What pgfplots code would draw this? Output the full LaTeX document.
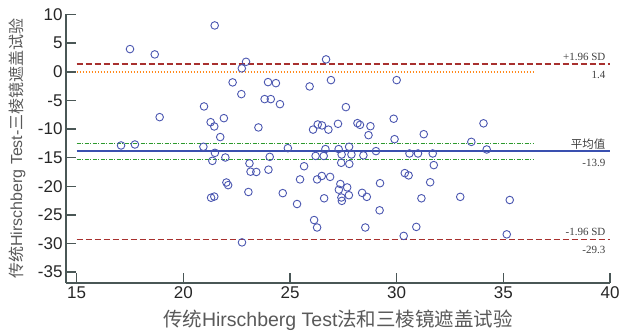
\documentclass[border=0pt]{standalone}
\usepackage{fontspec}
\setmainfont{Liberation Sans}
\newfontfamily\cjk{Noto Sans CJK SC}
\newfontfamily\tms{Liberation Serif}
\usepackage{pgfplots}
\pgfplotsset{compat=1.18}
\definecolor{spine}{HTML}{4A5756}
\definecolor{ptblue}{HTML}{4A56B0}
\definecolor{lred}{HTML}{A8302E}
\definecolor{lorange}{HTML}{FF8A1E}
\definecolor{lgreen}{HTML}{2E9A2E}
\definecolor{lblue}{HTML}{3A50B0}
\begin{document}
\begin{tikzpicture}
\useasboundingbox (-66pt,-48pt) rectangle (554pt,283pt);
\begin{axis}[
 scale only axis, width=544pt, height=269pt,
 xmin=14.5, xmax=40, ymin=-36.9, ymax=10.1,
 axis x line*=bottom, axis y line*=left,
 axis line style={spine, line width=1.8pt, -},
 xtick={15,20,...,40}, ytick={-35,-30,...,10},
 tick align=inside, major tick length=10pt,
 tick style={spine, line width=1.5pt},
 ticklabel style={font=\fontsize{17}{20}\selectfont, text=black!85},
 /pgf/number format/assume math mode=true,
 xlabel={{\cjk 传统}Hirschberg Test{\cjk 法和三棱镜遮盖试验}},
 ylabel={{\cjk 传统}Hirschberg Test-{\cjk 三棱镜遮盖试验}},
 xlabel style={at={(axis description cs:0.5,-0.1375)}, anchor=center, font=\fontsize{19.5}{22}\selectfont, text=black!65},
 ylabel style={at={(axis description cs:-0.09,0.5)}, anchor=center, font=\fontsize{16}{19}\selectfont, text=black!65},
 clip=false,
]
\addplot[lred, line width=1.8pt, dash pattern=on 6pt off 3pt] coordinates {(15,1.4) (40,1.4)};
\addplot[lorange, line width=1.8pt, dash pattern=on 1.5pt off 1.5pt] coordinates {(15,0) (36.4,0)};
\addplot[lgreen, line width=1pt, dash pattern=on 4pt off 1.5pt on 1pt off 1.5pt] coordinates {(15,-12.5) (36.4,-12.5)};
\addplot[lgreen, line width=1pt, dash pattern=on 4pt off 1.5pt on 1pt off 1.5pt] coordinates {(15,-15.4) (36.4,-15.4)};
\addplot[lblue, line width=1.8pt] coordinates {(15,-13.9) (40,-13.9)};
\addplot[lred, line width=1.8pt, dash pattern=on 6pt off 3pt] coordinates {(15,-29.3) (40,-29.3)};
\addplot[only marks, mark=o, mark size=3.8pt, ptblue, mark options={line width=0.9pt}] coordinates {
(21.47,8.1) (17.5,3.97) (18.66,3.04) (22.94,1.75) (22.74,0.6) (22.31,-1.85) (22.72,-3.9)
(20.97,-6.05) (18.89,-7.92) (21.28,-8.8) (21.9,-8.1) (21.45,-9.55) (26.69,2.17) (23.97,-1.8)
(24.34,-1.98) (25.92,-2.56) (26.92,-1.45) (30.0,-1.45) (23.81,-4.77) (24.1,-4.77) (24.53,-5.65)
(27.62,-6.17) (23.52,-9.72) (29.86,-8.2) (26.3,-9.2) (26.5,-9.37) (26.08,-10.1) (26.8,-10.1)
(27.25,-9.09) (28.16,-8.97) (28.28,-9.27) (28.77,-9.5) (34.07,-9.0) (28.68,-11.07) (29.9,-11.77)
(31.27,-10.9) (33.5,-12.24) (34.22,-13.57) (26.66,-13.5) (27.28,-13.5) (27.77,-13.1) (26.2,-14.7)
(26.58,-14.7) (27.42,-14.45) (27.88,-14.45) (28.44,-14.6) (29.03,-13.86) (30.6,-14.27) (31.0,-14.27)
(31.69,-14.27) (27.4,-15.9) (27.78,-16.1) (31.74,-16.3) (25.66,-16.5) (24.9,-13.34) (24.05,-14.86)
(23.1,-16.0) (23.15,-17.45) (23.42,-17.5) (23.99,-17.1) (23.05,-21.0) (24.66,-21.2) (25.47,-18.8)
(26.27,-18.8) (26.49,-18.2) (26.88,-18.36) (27.36,-19.6) (27.68,-20.2) (27.29,-20.6) (27.41,-21.96)
(27.43,-22.55) (27.76,-21.56) (28.38,-21.15) (28.6,-21.85) (29.22,-19.46) (29.2,-24.2) (26.6,-22.1)
(25.33,-23.1) (26.13,-25.9) (26.27,-27.2) (28.53,-27.2) (30.38,-17.7) (30.56,-18.1) (31.57,-19.3)
(31.16,-22.1) (32.98,-21.85) (35.3,-22.4) (30.92,-27.1) (30.33,-28.67) (35.16,-28.4) (21.73,-11.4)
(17.08,-12.87) (17.73,-12.7) (20.94,-13.1) (21.48,-14.16) (21.36,-15.56) (21.97,-14.97) (22.02,-19.34)
(22.1,-19.8) (21.3,-22.0) (21.45,-21.8) (22.75,-29.8)
};
\node[anchor=east, font=\tms\fontsize{11}{13}\selectfont, text=black!75] at (axis cs:39.95,2.62) {+1.96 SD};
\node[anchor=east, font=\tms\fontsize{11}{13}\selectfont, text=black!75] at (axis cs:39.95,-0.58) {1.4};
\node[anchor=east, font=\cjk\fontsize{11.5}{13}\selectfont, text=black!75] at (axis cs:39.95,-12.6) {平均值};
\node[anchor=east, font=\tms\fontsize{11}{13}\selectfont, text=black!75] at (axis cs:39.95,-15.84) {-13.9};
\node[anchor=east, font=\tms\fontsize{11}{13}\selectfont, text=black!75] at (axis cs:39.95,-27.97) {-1.96 SD};
\node[anchor=east, font=\tms\fontsize{11}{13}\selectfont, text=black!75] at (axis cs:39.95,-31.05) {-29.3};
\end{axis}
\end{tikzpicture}
\end{document}
